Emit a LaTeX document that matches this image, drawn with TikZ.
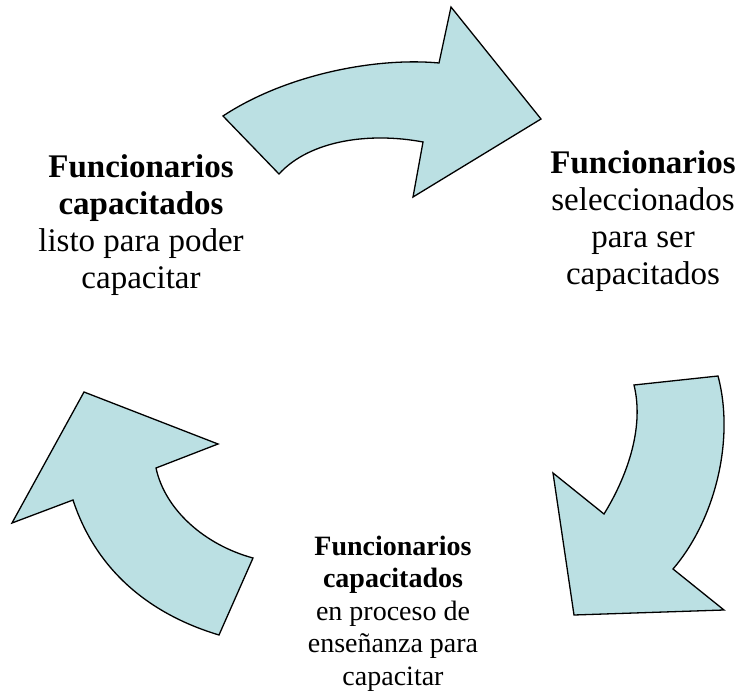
\documentclass[tikz,border=0pt]{standalone}
\usepackage{fontspec}
\setmainfont{Liberation Serif}
\begin{document}
\begin{tikzpicture}[x=1pt,y=-1pt,
  arrowshape/.style={fill=arrowfill,draw=black,line width=1.3pt,line join=miter},
  bigtext/.style={align=center,inner sep=0pt,anchor=base,font=\fontsize{33}{37}\selectfont},
  smalltext/.style={align=center,inner sep=0pt,anchor=base,font=\fontsize{28}{32.5}\selectfont}]
\definecolor{arrowfill}{RGB}{187,224,227}
\useasboundingbox (0,0) rectangle (744,695);
% top arrow
\draw[arrowshape] (223,116) .. controls (285,75) and (375,57) .. (439,63)
  -- (451,7) -- (541,119) -- (413,197) -- (423,142)
  .. controls (370,132) and (310,140) .. (279,174) -- cycle;
% right arrow
\draw[arrowshape] (718,376) -- (634,385)
  .. controls (645,430) and (625,480) .. (604,514)
  -- (553,473) -- (574,615) -- (724,610) -- (673,569)
  .. controls (715,520) and (735,440) .. (718,376) -- cycle;
% left arrow
\draw[arrowshape] (84,392) -- (218,444) -- (156,468)
  .. controls (165,510) and (205,545) .. (253,558)
  -- (219,635) .. controls (149,614) and (96,570) .. (73,500)
  -- (12,523) -- cycle;
% texts
\node[bigtext] (tl) at (141,288) {\textbf{Funcionarios}\\\textbf{capacitados}\\listo para poder\\capacitar};
\node[bigtext] (tr) at (643,284) {\textbf{Funcionarios}\\seleccionados\\para ser\\capacitados};
\node[smalltext] (bt) at (393,685) {\textbf{Funcionarios}\\\textbf{capacitados}\\en proceso de\\enseñanza para\\capacitar};
\end{tikzpicture}
\end{document}
